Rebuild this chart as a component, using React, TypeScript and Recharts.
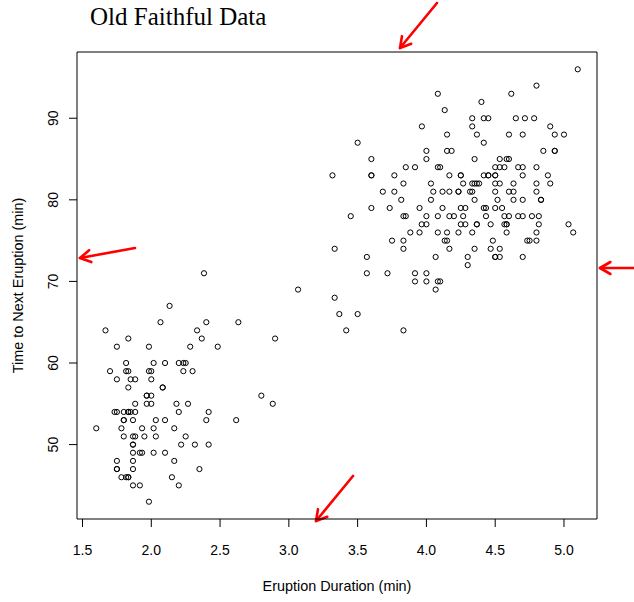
import React from 'react';
import { ScatterChart, Scatter, XAxis, YAxis, ReferenceArea, Customized } from 'recharts';

// Old Faithful geyser: eruption duration (min) and waiting time to next eruption (min)
const eruptions = [
  3.600, 1.800, 3.333, 2.283, 4.533, 2.883, 4.700, 3.600, 1.950, 4.350,
  1.833, 3.917, 4.200, 1.750, 4.700, 2.167, 1.750, 4.800, 1.600, 4.250,
  1.800, 1.750, 3.450, 3.067, 4.533, 3.600, 1.967, 4.083, 3.850, 4.433,
  4.300, 4.467, 3.367, 4.033, 3.833, 2.017, 1.867, 4.833, 1.833, 4.783,
  4.350, 1.883, 4.567, 1.750, 4.533, 3.317, 3.833, 2.100, 4.633, 2.000,
  4.800, 4.716, 1.833, 4.833, 1.733, 4.883, 3.717, 1.667, 4.567, 4.317,
  2.233, 4.500, 1.750, 4.800, 1.817, 4.400, 4.167, 4.700, 2.067, 4.700,
  4.033, 1.967, 4.500, 4.000, 1.983, 5.067, 2.017, 4.567, 3.883, 3.600,
  4.133, 4.333, 4.100, 2.633, 4.067, 4.933, 3.950, 4.517, 2.167, 4.000,
  2.200, 4.333, 1.867, 4.817, 1.833, 4.300, 4.667, 3.750, 1.867, 4.900,
  2.483, 4.367, 2.100, 4.500, 4.050, 1.867, 4.700, 1.783, 4.850, 3.683,
  4.733, 2.300, 4.900, 4.417, 1.700, 4.633, 2.317, 4.600, 1.817, 4.417,
  2.617, 4.067, 4.250, 1.967, 4.600, 3.767, 1.917, 4.500, 2.267, 4.650,
  1.867, 4.167, 2.800, 4.333, 1.833, 4.383, 1.883, 4.933, 2.033, 3.733,
  4.233, 2.233, 4.533, 4.817, 4.333, 1.983, 4.633, 2.017, 5.100, 1.800,
  5.033, 4.000, 2.400, 4.600, 3.567, 4.000, 4.500, 4.083, 1.800, 3.967,
  2.200, 4.150, 2.000, 3.833, 3.500, 4.583, 2.367, 5.000, 1.933, 4.617,
  1.917, 2.083, 4.583, 3.333, 4.167, 4.333, 4.500, 2.417, 4.000, 4.167,
  1.883, 4.583, 4.250, 3.767, 2.033, 4.433, 4.083, 1.833, 4.417, 2.183,
  4.800, 1.833, 4.800, 4.100, 3.966, 4.233, 3.500, 4.366, 2.250, 4.667,
  2.100, 4.350, 4.133, 1.867, 4.600, 1.783, 4.367, 3.850, 1.933, 4.500,
  2.383, 4.700, 1.867, 3.833, 3.417, 4.233, 2.400, 4.800, 2.000, 4.150,
  1.867, 4.267, 1.750, 4.483, 4.000, 4.117, 4.083, 4.267, 3.917, 4.550,
  4.083, 2.417, 4.183, 2.217, 4.450, 1.883, 1.850, 4.283, 3.950, 2.333,
  4.150, 2.350, 4.933, 2.900, 4.583, 3.833, 2.083, 4.367, 2.133, 4.350,
  2.200, 4.450, 3.567, 4.500, 4.150, 3.817, 3.917, 4.450, 2.000, 4.283,
  4.767, 4.533, 1.850, 4.250, 1.983, 2.250, 4.750, 4.117, 2.150, 4.417,
  1.817, 4.467,
];

const waiting = [
  79, 54, 74, 62, 85, 55, 88, 85, 51, 85,
  54, 84, 78, 47, 83, 52, 62, 84, 52, 79,
  51, 47, 78, 69, 74, 83, 55, 76, 78, 79,
  73, 77, 66, 80, 74, 52, 48, 80, 59, 90,
  80, 58, 84, 58, 73, 83, 64, 53, 82, 59,
  75, 90, 54, 80, 54, 83, 71, 64, 77, 81,
  59, 84, 48, 82, 60, 92, 78, 78, 65, 73,
  82, 56, 79, 71, 62, 76, 60, 78, 76, 83,
  75, 82, 70, 65, 73, 88, 76, 80, 48, 86,
  60, 90, 50, 78, 63, 72, 84, 75, 51, 82,
  62, 88, 49, 83, 81, 47, 84, 52, 86, 81,
  75, 59, 89, 79, 59, 81, 50, 85, 59, 87,
  53, 69, 77, 56, 88, 81, 45, 82, 55, 90,
  45, 83, 56, 89, 46, 82, 51, 86, 53, 79,
  81, 60, 82, 77, 76, 59, 80, 49, 96, 53,
  77, 77, 65, 81, 71, 70, 81, 93, 53, 89,
  45, 86, 58, 78, 66, 76, 63, 88, 52, 93,
  49, 57, 77, 68, 81, 81, 73, 50, 85, 74,
  55, 77, 83, 83, 51, 78, 84, 46, 83, 55,
  81, 57, 76, 84, 77, 81, 87, 77, 51, 78,
  60, 82, 91, 53, 78, 46, 77, 84, 49, 83,
  71, 80, 49, 75, 64, 76, 53, 94, 55, 76,
  50, 82, 54, 75, 78, 79, 78, 78, 70, 79,
  70, 54, 86, 50, 90, 54, 54, 77, 79, 64,
  75, 47, 86, 63, 85, 82, 57, 82, 67, 74,
  54, 83, 73, 73, 88, 80, 71, 83, 56, 79,
  78, 84, 58, 83, 43, 60, 75, 81, 46, 90,
  46, 74,
];

const xTicks = [1.5, 2.0, 2.5, 3.0, 3.5, 4.0, 4.5, 5.0];
const yTicks = [50, 60, 70, 80, 90];

const points = eruptions.map((e, i) => ({ eruptions: e, waiting: waiting[i] }));

// axis ranges padded 4% beyond the data range on each side
const X_DOMAIN: [number, number] = [1.46, 5.24];
const Y_DOMAIN: [number, number] = [40.88, 98.12];

const W = 634;
const H = 602;
const SANS = '"Liberation Sans", Arial, Helvetica, sans-serif';
const SERIF = '"Liberation Serif", "Times New Roman", serif';

// red pointer annotations (pixel coordinates of tail and tip)
const ARROWS: { tail: [number, number]; tip: [number, number] }[] = [
  { tail: [437, 3], tip: [400, 48] },
  { tail: [135, 248], tip: [80, 258] },
  { tail: [640, 268], tip: [600, 268] },
  { tail: [353, 476], tip: [316, 521] },
];

const XTick = (props: any) => {
  const { x, y, payload } = props;
  return (
    <text x={x} y={y + 27.5} textAnchor="middle" fontSize={14} fontFamily={SANS} fill="#000">
      {Number(payload.value).toFixed(1)}
    </text>
  );
};

const YTick = (props: any) => {
  const { x, y, payload } = props;
  const bx = x - 10.5;
  return (
    <text
      x={bx}
      y={y}
      transform={`rotate(-90 ${bx} ${y})`}
      textAnchor="middle"
      fontSize={14}
      fontFamily={SANS}
      fill="#000"
    >
      {payload.value}
    </text>
  );
};

const Ring = (props: any) => {
  const { cx, cy } = props;
  return <circle cx={cx} cy={cy} r={2.6} fill="none" stroke="#000" strokeWidth={1} />;
};

const Arrow = ({ tail, tip }: { tail: [number, number]; tip: [number, number] }) => {
  const [x0, y0] = tail;
  const [x1, y1] = tip;
  const back = Math.atan2(y0 - y1, x0 - x1);
  const len = 12;
  const spread = Math.PI / 6;
  const a = [x1 + len * Math.cos(back + spread), y1 + len * Math.sin(back + spread)];
  const b = [x1 + len * Math.cos(back - spread), y1 + len * Math.sin(back - spread)];
  return (
    <g stroke="#ff0000" strokeWidth={2.6} strokeLinecap="round" strokeLinejoin="round" fill="none">
      <line x1={x0} y1={y0} x2={x1} y2={y1} />
      <polyline points={`${a[0]},${a[1]} ${x1},${y1} ${b[0]},${b[1]}`} />
    </g>
  );
};

const Decorations = () => (
  <g>
    <text x={90} y={25} fontSize={25} fontFamily={SERIF} fill="#000">
      Old Faithful Data
    </text>
    <text x={337} y={590.5} textAnchor="middle" fontSize={14.4} fontFamily={SANS} fill="#000">
      Eruption Duration (min)
    </text>
    <text
      x={22.5}
      y={285.5}
      transform="rotate(-90 22.5 285.5)"
      textAnchor="middle"
      fontSize={14.4}
      fontFamily={SANS}
      fill="#000"
    >
      Time to Next Eruption (min)
    </text>
    {ARROWS.map((a, i) => (
      <Arrow key={i} tail={a.tail} tip={a.tip} />
    ))}
  </g>
);

export default function App() {
  return (
    <div style={{ position: 'absolute', left: 0, top: 0, width: W, height: H, background: '#fff' }}>
      <ScatterChart width={W} height={H} margin={{ top: 52, right: 37, bottom: 33, left: 17 }}>
        <XAxis
          type="number"
          dataKey="eruptions"
          domain={X_DOMAIN}
          ticks={xTicks}
          allowDataOverflow
          axisLine={false}
          tickLine={{ stroke: '#000' }}
          tickSize={8}
          tickMargin={0}
          height={50}
          tick={<XTick />}
        />
        <YAxis
          type="number"
          dataKey="waiting"
          domain={Y_DOMAIN}
          ticks={yTicks}
          allowDataOverflow
          axisLine={false}
          tickLine={{ stroke: '#000' }}
          tickSize={8}
          tickMargin={0}
          width={60}
          tick={<YTick />}
        />
        <ReferenceArea
          x1={X_DOMAIN[0]}
          x2={X_DOMAIN[1]}
          y1={Y_DOMAIN[0]}
          y2={Y_DOMAIN[1]}
          fill="none"
          fillOpacity={0}
          stroke="#000"
          strokeWidth={1}
        />
        <Scatter data={points} shape={<Ring />} isAnimationActive={false} />
        <Customized component={<Decorations />} />
      </ScatterChart>
    </div>
  );
}
